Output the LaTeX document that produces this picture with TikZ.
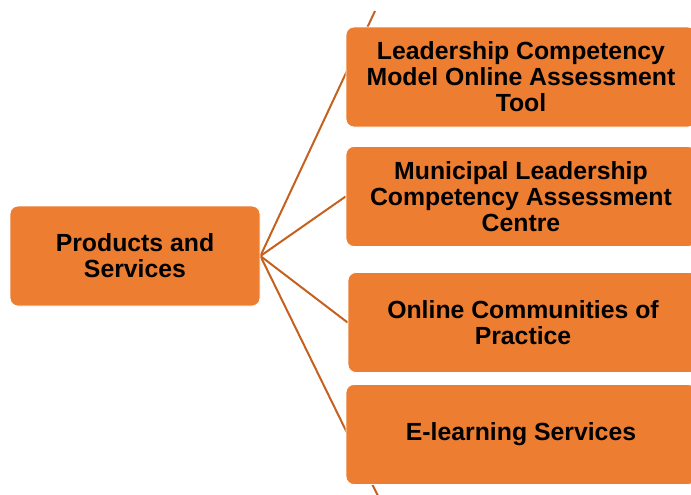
\documentclass[tikz,border=0pt]{standalone}
\usepackage{fontspec}
\setmainfont{Liberation Sans}
\usetikzlibrary{backgrounds}
\definecolor{boxorange}{RGB}{237,125,49}
\definecolor{linebrown}{RGB}{197,96,30}
\begin{document}
\begin{tikzpicture}[x=0.75pt,y=-0.75pt,
    itembox/.style={rectangle, rounded corners=6pt, fill=boxorange, draw=white, line width=0.6pt,
      minimum width=262.5pt, minimum height=75pt, align=center,
      font=\fontsize{18.6}{19.5}\selectfont\bfseries},
    rootbox/.style={itembox, minimum width=187.5pt},
    branch/.style={draw=linebrown, line width=1.5pt}]
  \clip (0,0) rectangle (691,494);
  % root and items
  \node[rootbox] (root) at (135,256) {Products and\\Services};
  \node[itembox] (lead) at (521,77) {Leadership Competency\\Model Online Assessment\\Tool};
  \node[itembox] (muni) at (521,196.5) {Municipal Leadership\\Competency Assessment\\Centre};
  \node[itembox] (comm) at (523,322.5) {Online Communities of\\Practice};
  \node[itembox] (elearn) at (521,434.5) {E-learning Services};
  \coordinate (topend) at (375,11);
  \coordinate (botend) at (378,496);
  % connectors
  \begin{scope}[on background layer]
    \draw[branch] (root.east) -- (topend);
    \draw[branch] (root.east) -- (muni.west);
    \draw[branch] (root.east) -- (comm.west);
    \draw[branch] (root.east) -- (botend);
  \end{scope}
\end{tikzpicture}
\end{document}
